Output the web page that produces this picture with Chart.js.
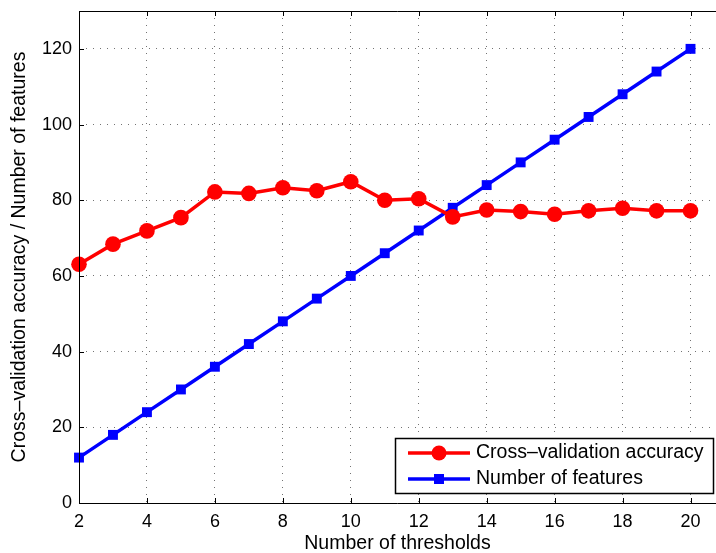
<!DOCTYPE html>
<html>
<head>
<meta charset="utf-8">
<script src="https://cdn.jsdelivr.net/npm/chart.js@4.4.1/dist/chart.umd.min.js"></script>
<style>
  html, body { margin: 0; padding: 0; background: #fff; }
  #wrap { width: 716px; height: 553px; }
</style>
</head>
<body>
<div id="wrap"><canvas id="chart" width="716" height="553"></canvas></div>
<script>
// data
const thresholds = [2, 3, 4, 5, 6, 7, 8, 9, 10, 11, 12, 13, 14, 15, 16, 17, 18, 19, 20];
const accuracy = [63.1, 68.4, 71.9, 75.4, 82.2, 81.8, 83.3, 82.5, 84.9, 80.0, 80.4, 75.6, 77.4, 77.0, 76.3, 77.2, 77.9, 77.2, 77.2];
const features = [12, 18, 24, 30, 36, 42, 48, 54, 60, 66, 72, 78, 84, 90, 96, 102, 108, 114, 120];
const xTicks = [2, 4, 6, 8, 10, 12, 14, 16, 18, 20];
const yTicks = [0, 20, 40, 60, 80, 100, 120];

const FONT = 'Liberation Sans, Arial, Helvetica, sans-serif';

const seriesInfo = [
  { label: 'Cross\u2013validation accuracy', color: '#ff0000', style: 'circle' },
  { label: 'Number of features', color: '#0000ff', style: 'rect' },
];

const toPoints = (vals) => vals.map((v, i) => ({ x: thresholds[i], y: v }));

// frame, inward ticks and the boxed legend, matlab style
const matlabBits = {
  id: 'matlabBits',
  afterDraw(chart) {
    const { ctx, chartArea, scales } = chart;
    const { left, top, bottom } = chartArea;
    const right = chart.width;
    ctx.save();
    ctx.strokeStyle = '#000';
    ctx.lineWidth = 1;
    ctx.beginPath();
    ctx.moveTo(right, top + 0.5);
    ctx.lineTo(left + 0.5, top + 0.5);
    ctx.lineTo(left + 0.5, bottom + 0.5);
    ctx.lineTo(right, bottom + 0.5);
    // inward ticks
    xTicks.forEach((t) => {
      const px = Math.round(scales.x.getPixelForValue(t)) + 0.5;
      ctx.moveTo(px, bottom);
      ctx.lineTo(px, bottom - 5);
      ctx.moveTo(px, top);
      ctx.lineTo(px, top + 5);
    });
    yTicks.forEach((t) => {
      const py = Math.round(scales.y.getPixelForValue(t)) + 0.5;
      ctx.moveTo(left, py);
      ctx.lineTo(left + 5, py);
    });
    ctx.stroke();

    // legend box
    const bx = 395.5, by = 438.5, bw = 318, bh = 55;
    ctx.fillStyle = '#fff';
    ctx.fillRect(bx, by, bw, bh);
    ctx.lineWidth = 1.5;
    ctx.strokeRect(bx, by, bw, bh);
    const rows = [453, 479];
    chart.data.datasets.forEach((ds, i) => {
      const y = rows[i];
      ctx.strokeStyle = ds.borderColor;
      ctx.lineWidth = 3.5;
      ctx.beginPath();
      ctx.moveTo(408, y);
      ctx.lineTo(470, y);
      ctx.stroke();
      ctx.fillStyle = ds.borderColor;
      if (seriesInfo[i].style === 'circle') {
        ctx.beginPath();
        ctx.arc(439, y, 7.5, 0, Math.PI * 2);
        ctx.fill();
      } else {
        ctx.fillRect(434, y - 5, 10, 10);
      }
      ctx.fillStyle = '#000';
      ctx.font = '19.5px ' + FONT;
      ctx.textBaseline = 'middle';
      ctx.textAlign = 'left';
      ctx.fillText(ds.label, 476, y);
    });
    ctx.restore();
  },
};

new Chart(document.getElementById('chart'), {
  type: 'line',
  data: {
    datasets: [
      {
        label: seriesInfo[0].label,
        data: toPoints(accuracy),
        borderColor: seriesInfo[0].color,
        backgroundColor: seriesInfo[0].color,
        borderWidth: 3.5,
        pointStyle: 'circle',
        pointRadius: 7.8,
        pointBorderWidth: 0,
        tension: 0,
        clip: false,
      },
      {
        label: seriesInfo[1].label,
        data: toPoints(features),
        borderColor: seriesInfo[1].color,
        backgroundColor: seriesInfo[1].color,
        borderWidth: 3.5,
        pointStyle: 'rect',
        pointRadius: 7,
        pointBorderWidth: 0,
        tension: 0,
        clip: false,
      },
    ],
  },
  options: {
    responsive: false,
    animation: false,
    layout: { autoPadding: false, padding: { top: 11, right: 0, left: 0, bottom: 0 } },
    plugins: {
      legend: { display: false },
      tooltip: { enabled: false },
    },
    scales: {
      x: {
        type: 'linear',
        min: 2,
        max: 20.75,
        afterBuildTicks: (s) => { s.ticks = xTicks.map((v) => ({ value: v })); },
        afterFit: (s) => { s.height = 50; s.paddingLeft = 0; s.paddingRight = 0; },
        ticks: { color: '#000', font: { size: 18, family: FONT }, padding: 8, maxRotation: 0 },
        grid: { color: 'rgba(0,0,0,0.55)', lineWidth: 1, drawTicks: false },
        border: { display: false, dash: [1, 6] },
        title: { display: true, text: 'Number of thresholds', color: '#000', font: { size: 19.5, family: FONT }, padding: { top: 0, bottom: -2 } },
      },
      y: {
        min: 0,
        max: 130,
        afterBuildTicks: (s) => { s.ticks = yTicks.map((v) => ({ value: v })); },
        afterFit: (s) => { s.width = 79; s.paddingTop = 0; s.paddingBottom = 0; },
        ticks: { color: '#000', font: { size: 18, family: FONT }, padding: 7 },
        grid: { color: 'rgba(0,0,0,0.55)', lineWidth: 1, drawTicks: false },
        border: { display: false, dash: [1, 6] },
        title: { display: true, text: 'Cross\u2013validation accuracy / Number of features', color: '#000', font: { size: 19.5, family: FONT }, padding: { top: 8, bottom: 0 } },
      },
    },
  },
  plugins: [matlabBits],
});
</script>
</body>
</html>
